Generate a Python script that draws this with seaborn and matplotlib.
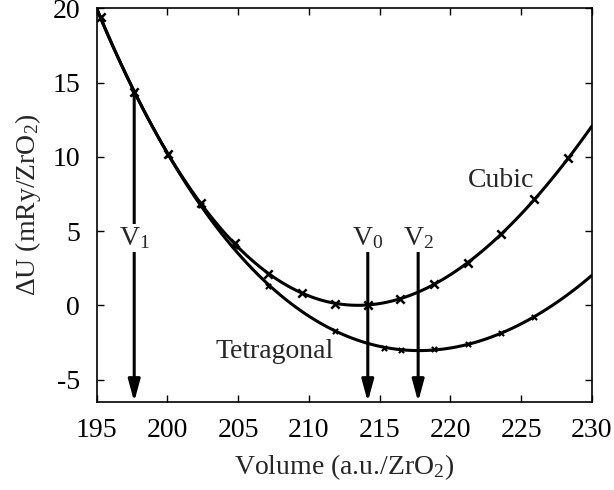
import matplotlib
matplotlib.use("Agg")
import matplotlib.pyplot as plt
import seaborn as sns
import numpy as np
import pandas as pd

# Energy vs volume
cubic_volume = [195.28, 197.65, 200.01, 202.37, 204.77, 207.13, 209.49,
                211.84, 214.19, 216.43, 218.84, 221.22, 223.57, 225.93, 228.33]
cubic_energy = [19.4, 14.36, 10.18, 6.89, 4.19, 2.13, 0.83,
                0.11, 0.0, 0.45, 1.43, 2.84, 4.79, 7.14, 9.89]

tetra_volume = [195.28, 197.65, 200.01, 202.37, 204.77, 207.13, 211.84,
                215.32, 216.50, 218.86, 221.24, 223.57, 225.93]
tetra_energy = [19.4, 14.3, 10.1, 6.75, 3.98, 1.3, -1.76,
                -2.9, -3.0, -2.97, -2.6, -1.85, -0.8]

# characteristic volumes (arrows) and where the arrows start
marker_names = ["V$_1$", "V$_0$", "V$_2$"]
marker_volume = [197.65, 214.16, 217.72]
marker_top = [14.36, 3.58, 3.58]

x_ticks = [195, 200, 205, 210, 215, 220, 225, 230]
y_ticks = [-5, 0, 5, 10, 15, 20]

FS = 20

sns.set_theme(style="ticks")
plt.rcParams["font.family"] = ["Liberation Serif", "DejaVu Serif"]
plt.rcParams["mathtext.fontset"] = "custom"
plt.rcParams["mathtext.rm"] = "Liberation Serif"
plt.rcParams["mathtext.it"] = "Liberation Serif:italic"
plt.rcParams["axes.unicode_minus"] = False

fig = plt.figure(figsize=(6.14, 4.90), dpi=100)
ax = fig.add_axes([0.1575, 0.18, 0.8065, 0.803])
ax.set_xlim(195, 230)
ax.set_ylim(-6.5, 20)

cubic = pd.DataFrame({"V": cubic_volume, "U": cubic_energy})
tetra = pd.DataFrame({"V": tetra_volume, "U": tetra_energy})

# smooth fitted curves across the full axis range
for df in (cubic, tetra):
    sns.regplot(data=df, x="V", y="U", order=4, ci=None, scatter=False,
                truncate=False, line_kws=dict(color="black", lw=2.2), ax=ax)

sns.scatterplot(data=cubic, x="V", y="U", marker="x", s=36, color="black",
                linewidth=1.8, ax=ax, zorder=3)
sns.scatterplot(data=tetra, x="V", y="U", marker="x", s=14, color="black",
                linewidth=1.5, ax=ax, zorder=3)

ymin = ax.get_ylim()[0]
for name, v, top in zip(marker_names, marker_volume, marker_top):
    ax.annotate("", xy=(v, ymin), xytext=(v, top),
                arrowprops=dict(arrowstyle="-|>,head_width=0.3,head_length=1.1",
                                color="black", lw=2.2, shrinkA=0, shrinkB=0),
                zorder=4)
    ax.text(v, 3.65, name, ha="center", va="bottom", fontsize=FS,
            bbox=dict(facecolor="white", edgecolor="none", pad=0.5), zorder=5)

ax.text(223.6, 8.4, "Cubic", ha="center", va="center", fontsize=FS)
ax.text(207.6, -3.1, "Tetragonal", ha="center", va="center", fontsize=FS)

ax.set_xticks(x_ticks)
ax.set_yticks(y_ticks)
ax.tick_params(direction="in", length=5, width=1, top=True, right=True,
               labelsize=FS, colors="black")
ax.tick_params(axis="x", pad=12)
ax.tick_params(axis="y", pad=12)
for s in ax.spines.values():
    s.set_visible(True)
    s.set_linewidth(1.2)
    s.set_color("black")

ax.set_xlabel("Volume (a.u./ZrO$_2$)", fontsize=FS, labelpad=6)
ax.set_ylabel("ΔU (mRy/ZrO$_2$)", fontsize=FS, labelpad=7)

fig.savefig("out.png", dpi=100)
